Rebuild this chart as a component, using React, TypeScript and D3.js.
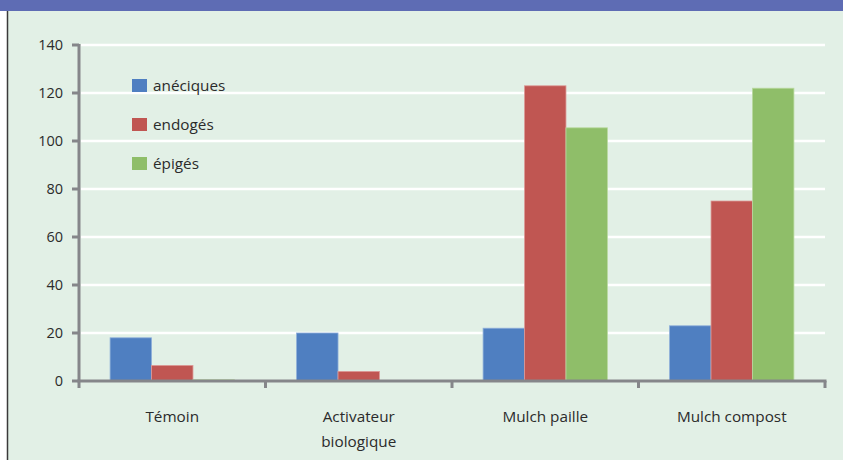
import React from "react";
import * as d3 from "d3";

const categories = ["Témoin", "Activateur\nbiologique", "Mulch paille", "Mulch compost"];
const seriesNames = ["anéciques", "endogés", "épigés"];
const aneciques = [18, 20, 22, 23];
const endoges = [6.5, 4, 123, 75];
const epiges = [0.5, 0, 105.5, 122];
const yTicks = [0, 20, 40, 60, 80, 100, 120, 140];

const colors = ["#4f7fc1", "#c05652", "#8fbe69"];
const strokes = ["#8fb0da", "#dc9a97", "#b9d9a0"];

const W = 843;
const H = 460;
const FONT = "'Open Sans', 'DejaVu Sans', sans-serif";
const TEXT = "#2b2b2b";

export default function App() {
  const series = [aneciques, endoges, epiges];
  const x = d3.scaleBand<string>().domain(categories).range([79, 825]).paddingInner(0).paddingOuter(0);
  const inner = d3
    .scaleBand<string>()
    .domain(seriesNames)
    .range([0, x.bandwidth()])
    .paddingOuter(0.75)
    .paddingInner(0);
  const y = d3.scaleLinear().domain([0, 140]).range([381, 45]);

  const boundaries = [...categories.map((c) => x(c) as number), 825];

  return (
    <svg
      width={W}
      height={H}
      style={{ position: "absolute", left: 0, top: 0, display: "block" }}
      fontFamily={FONT}
    >
      <rect x={0} y={0} width={W} height={H} fill="#ffffff" />
      <rect x={7} y={11} width={W - 7} height={H - 11} fill="#e2f0e6" />
      <rect x={0} y={0} width={W} height={11} fill="#5e6cb4" />
      <line x1={7.5} x2={7.5} y1={11} y2={H} stroke="#3a3a3a" strokeWidth={1.5} />

      {/* grid */}
      {yTicks
        .filter((t) => t > 0)
        .map((t) => (
          <line key={t} x1={81} x2={825} y1={y(t)} y2={y(t)} stroke="#ffffff" strokeWidth={2.5} />
        ))}

      {/* bars */}
      {series.map((vals, si) =>
        vals.map((v, ci) => {
          if (v <= 0) return null;
          const bx = (x(categories[ci]) as number) + (inner(seriesNames[si]) as number);
          return (
            <rect
              key={`${si}-${ci}`}
              x={bx}
              y={y(v)}
              width={inner.bandwidth()}
              height={y(0) - y(v)}
              fill={colors[si]}
              stroke={strokes[si]}
              strokeWidth={0.8}
            />
          );
        })
      )}

      {/* axes */}
      <line x1={79} x2={79} y1={44} y2={382} stroke="#85868a" strokeWidth={3} />
      {yTicks.map((t) => (
        <g key={t}>
          <line x1={72} x2={79} y1={y(t)} y2={y(t)} stroke="#85868a" strokeWidth={3} />
          <text x={63} y={y(t)} dy="0.36em" textAnchor="end" fontSize={14.5} fill={TEXT}>
            {t}
          </text>
        </g>
      ))}
      <line x1={77.5} x2={826.5} y1={381} y2={381} stroke="#85868a" strokeWidth={3} />
      {boundaries.map((b, i) => (
        <line key={i} x1={b} x2={b} y1={381} y2={388} stroke="#85868a" strokeWidth={3} />
      ))}

      {categories.map((c) => {
        const cx = (x(c) as number) + x.bandwidth() / 2;
        return (
          <text key={c} x={cx} y={422} textAnchor="middle" fontSize={15.3} fill={TEXT}>
            {c.split("\n").map((line, i) => (
              <tspan key={i} x={cx} y={422 + i * 25}>
                {line}
              </tspan>
            ))}
          </text>
        );
      })}

      {/* legend */}
      {seriesNames.map((n, i) => (
        <g key={n} transform={`translate(132, ${79 + i * 39})`}>
          <rect width={15} height={13} fill={colors[i]} />
          <text x={21} y={12} fontSize={15.3} fill={TEXT}>
            {n}
          </text>
        </g>
      ))}
    </svg>
  );
}
